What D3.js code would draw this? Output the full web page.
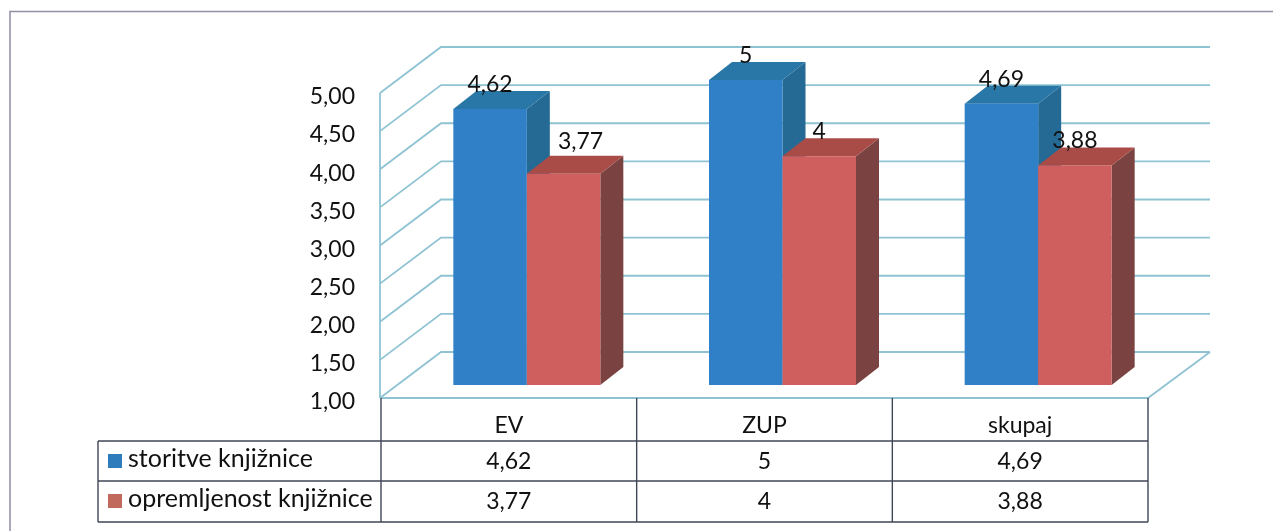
<!DOCTYPE html>
<html>
<head>
<meta charset="utf-8">
<script src="https://cdn.jsdelivr.net/npm/d3@7"></script>
<style>
  html, body { margin: 0; background: #fff; }
  text { font-family: Lato, "Open Sans", sans-serif; fill: #111; }
  svg { filter: blur(0.4px); }
</style>
</head>
<body>
<div id="output"></div>
<script>
const categories = ["EV", "ZUP", "skupaj"];
const seriesNames = ["storitve knjižnice", "opremljenost knjižnice"];
const storitve = [4.62, 5, 4.69];
const opremljenost = [3.77, 4, 3.88];
const storitveLabels = ["4,62", "5", "4,69"];
const opremljenostLabels = ["3,77", "4", "3,88"];
const yTicks = [1, 1.5, 2, 2.5, 3, 3.5, 4, 4.5, 5];

function PlotChart(parent_element = "output") {
  const width = 1273, height = 531;

  const svg = d3.select("#" + parent_element).append("svg")
    .attr("width", width)
    .attr("height", height)
    .style("display", "block");

  // Front plane of the plot, the walls sit behind it by (depthX, depthY)
  const left = 381, right = 1148, base = 398, top = 93;
  const depthX = 60, depthY = -46;

  const x = d3.scaleBand().domain(categories).range([left, right]);
  const y = d3.scaleLinear().domain([1, 5]).range([base, top]);
  const format = d3.format(".2f");

  // Outer frame
  svg.append("path")
    .attr("d", "M10,531V11.5H1273")
    .attr("fill", "none")
    .attr("stroke", "#8f8fa6")
    .attr("stroke-width", 1.5);

  // Gridlines: side wall, then back wall
  const grid = svg.append("g")
    .attr("fill", "none")
    .attr("stroke", "#8fc3d3")
    .attr("stroke-width", 1.8);

  grid.selectAll("path")
    .data(yTicks)
    .join("path")
    .attr("d", d => `M${left - 1},${y(d)}L${left + depthX},${y(d) + depthY}H${right + depthX + 2}`);

  // Wall edges and floor
  grid.append("path")
    .attr("d", `M${left - 1},${y(5)}V${base}`);
  grid.append("path")
    .attr("d", `M${left - 1},${base}H${right}L${right + depthX + 2},${base + depthY}`);

  // Bars, drawn with their own inset depth
  const barBase = 385;
  const barY = d3.scaleLinear().domain([1, 5]).range([barBase, barBase - (base - top)]);
  const barW = 73.5, barDX = 23, barDY = -18;

  const series = [
    {values: storitve, labels: storitveLabels, front: "#2f80c6", key: "#2f7cbd", topFace: "#2877a6", side: "#256a94", offset: 0},
    {values: opremljenost, labels: opremljenostLabels, front: "#cf5f5e", key: "#c0695c", topFace: "#a94c48", side: "#7a4341", offset: 1}
  ];

  series.forEach(s => {
    const bars = svg.append("g").selectAll("g")
      .data(categories)
      .join("g")
      .attr("transform", d => {
        const x0 = x(d) + x.bandwidth() / 2 - barW + s.offset * barW + 18;
        return `translate(${x0},0)`;
      });

    bars.append("path")
      .attr("fill", s.side)
      .attr("d", (d, i) => {
        const t = barY(s.values[i]);
        return `M${barW},${t}l${barDX},${barDY}V${barBase + barDY}l${-barDX},${-barDY}Z`;
      });
    bars.append("path")
      .attr("fill", s.topFace)
      .attr("d", (d, i) => {
        const t = barY(s.values[i]);
        return `M0,${t}l${barDX},${barDY}h${barW}l${-barDX},${-barDY}Z`;
      });
    bars.append("rect")
      .attr("fill", s.front)
      .attr("width", barW)
      .attr("y", (d, i) => barY(s.values[i]))
      .attr("height", (d, i) => barBase - barY(s.values[i]));

    // Value labels above the bar top, the EV red one is moved up and right in the original
    const moved = i => s.offset === 1 && i === 0;
    bars.append("text")
      .attr("x", (d, i) => barW / 2 + (moved(i) ? 17 : 0))
      .attr("y", (d, i) => barY(s.values[i]) - (moved(i) ? 25 : 17))
      .attr("text-anchor", "middle")
      .attr("font-size", 23)
      .text((d, i) => s.labels[i]);
  });

  // Y axis labels
  svg.append("g").selectAll("text")
    .data(yTicks)
    .join("text")
    .attr("x", 355)
    .attr("y", d => y(d) + 3)
    .attr("dy", "0.36em")
    .attr("text-anchor", "end")
    .attr("font-size", 23)
    .text(d => format(d).replace(".", ","));

  // Data table under the plot
  const rowY = [base, 441, 481, 522];
  const tableLeft = 98;
  const table = svg.append("g")
    .attr("stroke", "#3f4656")
    .attr("stroke-width", 1.4);

  table.selectAll("line.col")
    .data([left, left + x.bandwidth(), left + 2 * x.bandwidth(), right])
    .join("line")
    .attr("class", "col")
    .attr("x1", d => d).attr("x2", d => d)
    .attr("y1", base).attr("y2", rowY[3]);
  table.selectAll("line.row")
    .data(rowY.slice(1))
    .join("line")
    .attr("class", "row")
    .attr("x1", tableLeft).attr("x2", right)
    .attr("y1", d => d).attr("y2", d => d);
  table.append("line")
    .attr("x1", tableLeft).attr("x2", tableLeft)
    .attr("y1", rowY[1]).attr("y2", rowY[3]);

  const cellText = (rows, yPos) => svg.append("g").selectAll("text")
    .data(categories)
    .join("text")
    .attr("x", d => x(d) + x.bandwidth() / 2)
    .attr("y", yPos)
    .attr("text-anchor", "middle")
    .attr("font-size", 23)
    .text((d, i) => rows[i]);

  cellText(categories, 433);
  cellText(storitveLabels, 469);
  cellText(opremljenostLabels, 509);

  // Legend keys and names in the first table column
  const legend = svg.append("g").selectAll("g")
    .data(seriesNames)
    .join("g")
    .attr("transform", (d, i) => `translate(108,${[454, 494][i]})`);
  legend.append("rect")
    .attr("width", 14)
    .attr("height", 14)
    .attr("fill", (d, i) => series[i].key);
  legend.append("text")
    .attr("x", 20)
    .attr("y", 13)
    .attr("font-size", 25)
    .text(d => d);
}

document.addEventListener("DOMContentLoaded", () => {
  PlotChart();
});
</script>
</body>
</html>
